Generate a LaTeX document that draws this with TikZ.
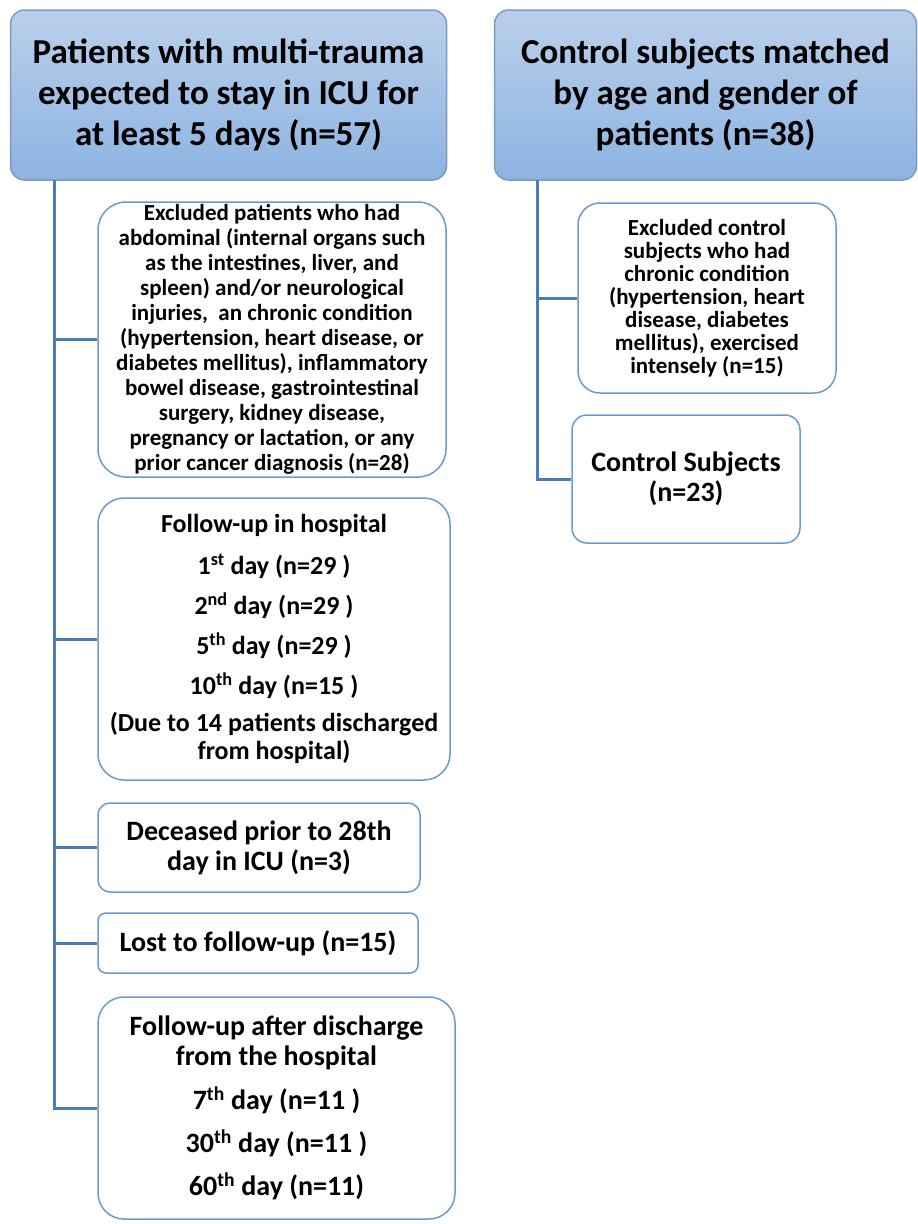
\documentclass[tikz,border=0pt]{standalone}
\usepackage{fontspec}
\setmainfont{Carlito}
\usepackage{xcolor}
\definecolor{hdrtop}{HTML}{B9D0EB}
\definecolor{hdrbot}{HTML}{8DB3E2}
\definecolor{hdrline}{HTML}{7E9BBE}
\definecolor{boxline}{HTML}{6A9AD0}
\definecolor{linkblue}{HTML}{4A7EBB}
\usetikzlibrary{positioning}
\tikzset{
  hdrbox/.style={
    rectangle, rounded corners=14pt, draw=hdrline, line width=1.5pt,
    top color=hdrtop, bottom color=hdrbot, align=center,
    font=\fontsize{35}{41}\selectfont\bfseries
  },
  stepbox/.style={
    rectangle, draw=boxline, line width=1.5pt, fill=white, align=center,
    inner sep=2pt
  },
  link/.style={draw=linkblue, line width=3pt}
}

\begin{document}
\begin{tikzpicture}[x=1pt,y=-1pt]
  \useasboundingbox (0,0) rectangle (918,1224);

  % header boxes
  \node[hdrbox, minimum width=436pt, minimum height=170pt] (patients) at (228.5,95)
    {Patients with multi-trauma\\ expected to stay in ICU for\\ at least 5 days (n=57)};
  \node[hdrbox, minimum width=422pt, minimum height=170pt] (controls) at (705.5,95)
    {Control subjects matched\\ by age and gender of\\ patients (n=38)};

  % patient branch
  \node[stepbox, rounded corners=28pt, minimum width=348pt, minimum height=275pt,
        font=\fontsize{23}{25}\selectfont\bfseries] (exclpat) at (272,339.5)
    {Excluded patients who had\\ abdominal (internal organs such\\ as the intestines, liver, and\\
     spleen) and/or neurological\\ injuries,~ an chronic condition\\ (hypertension, heart disease, or\\
     diabetes mellitus), inflammatory\\ bowel disease, gastrointestinal\\ surgery, kidney disease,\\
     pregnancy or lactation, or any\\ prior cancer diagnosis (n=28)};
  \node[stepbox, rounded corners=26pt, minimum width=352pt, minimum height=282pt,
        font=\fontsize{26}{28}\selectfont\bfseries] (fuhosp) at (274,639)
    {Follow-up in hospital\\[14pt] 1\textsuperscript{st} day (n=29 )\\[12pt]
     2\textsuperscript{nd} day (n=29 )\\[12pt] 5\textsuperscript{th} day (n=29 )\\[12pt]
     10\textsuperscript{th} day (n=15 )\\[9pt] (Due to 14 patients discharged\\ from hospital)};
  \node[stepbox, rounded corners=12pt, minimum width=322pt, minimum height=89pt,
        font=\fontsize{28}{30}\selectfont\bfseries] (deceased) at (259,847.5)
    {Deceased prior to 28th\\ day in ICU (n=3)};
  \node[stepbox, rounded corners=8pt, minimum width=320pt, minimum height=60pt,
        font=\fontsize{28}{30}\selectfont\bfseries] (lost) at (258,943)
    {Lost to follow-up (n=15)};
  \node[stepbox, rounded corners=26pt, minimum width=357pt, minimum height=222pt,
        font=\fontsize{28}{30}\selectfont\bfseries] (fuafter) at (276.5,1108)
    {Follow-up after discharge\\ from the hospital\\[14pt] 7\textsuperscript{th} day (n=11 )\\[13pt]
     30\textsuperscript{th} day (n=11 )\\[13pt] 60\textsuperscript{th} day (n=11)};

  % control branch
  \node[stepbox, rounded corners=22pt, minimum width=258pt, minimum height=190pt,
        font=\fontsize{23}{23}\selectfont\bfseries] (exclctl) at (707,298)
    {Excluded control\\ subjects who had\\ chronic condition\\ (hypertension, heart\\
     disease, diabetes\\ mellitus), exercised\\ intensely (n=15)};
  \node[stepbox, rounded corners=15pt, minimum width=228pt, minimum height=128pt,
        font=\fontsize{28}{30}\selectfont\bfseries] (ctlsub) at (686,479)
    {Control Subjects\\ (n=23)};

  % connectors
  \coordinate (ltrunk) at (54,180);
  \coordinate (rtrunk) at (537,180);
  \draw[link] (ltrunk) |- (fuafter.west);
  \foreach \b in {exclpat,fuhosp,deceased,lost}
    \draw[link] (\b.west -| ltrunk) -- (\b.west);
  \draw[link] (rtrunk) |- (ctlsub.west);
  \draw[link] (exclctl.west -| rtrunk) -- (exclctl.west);
\end{tikzpicture}
\end{document}
